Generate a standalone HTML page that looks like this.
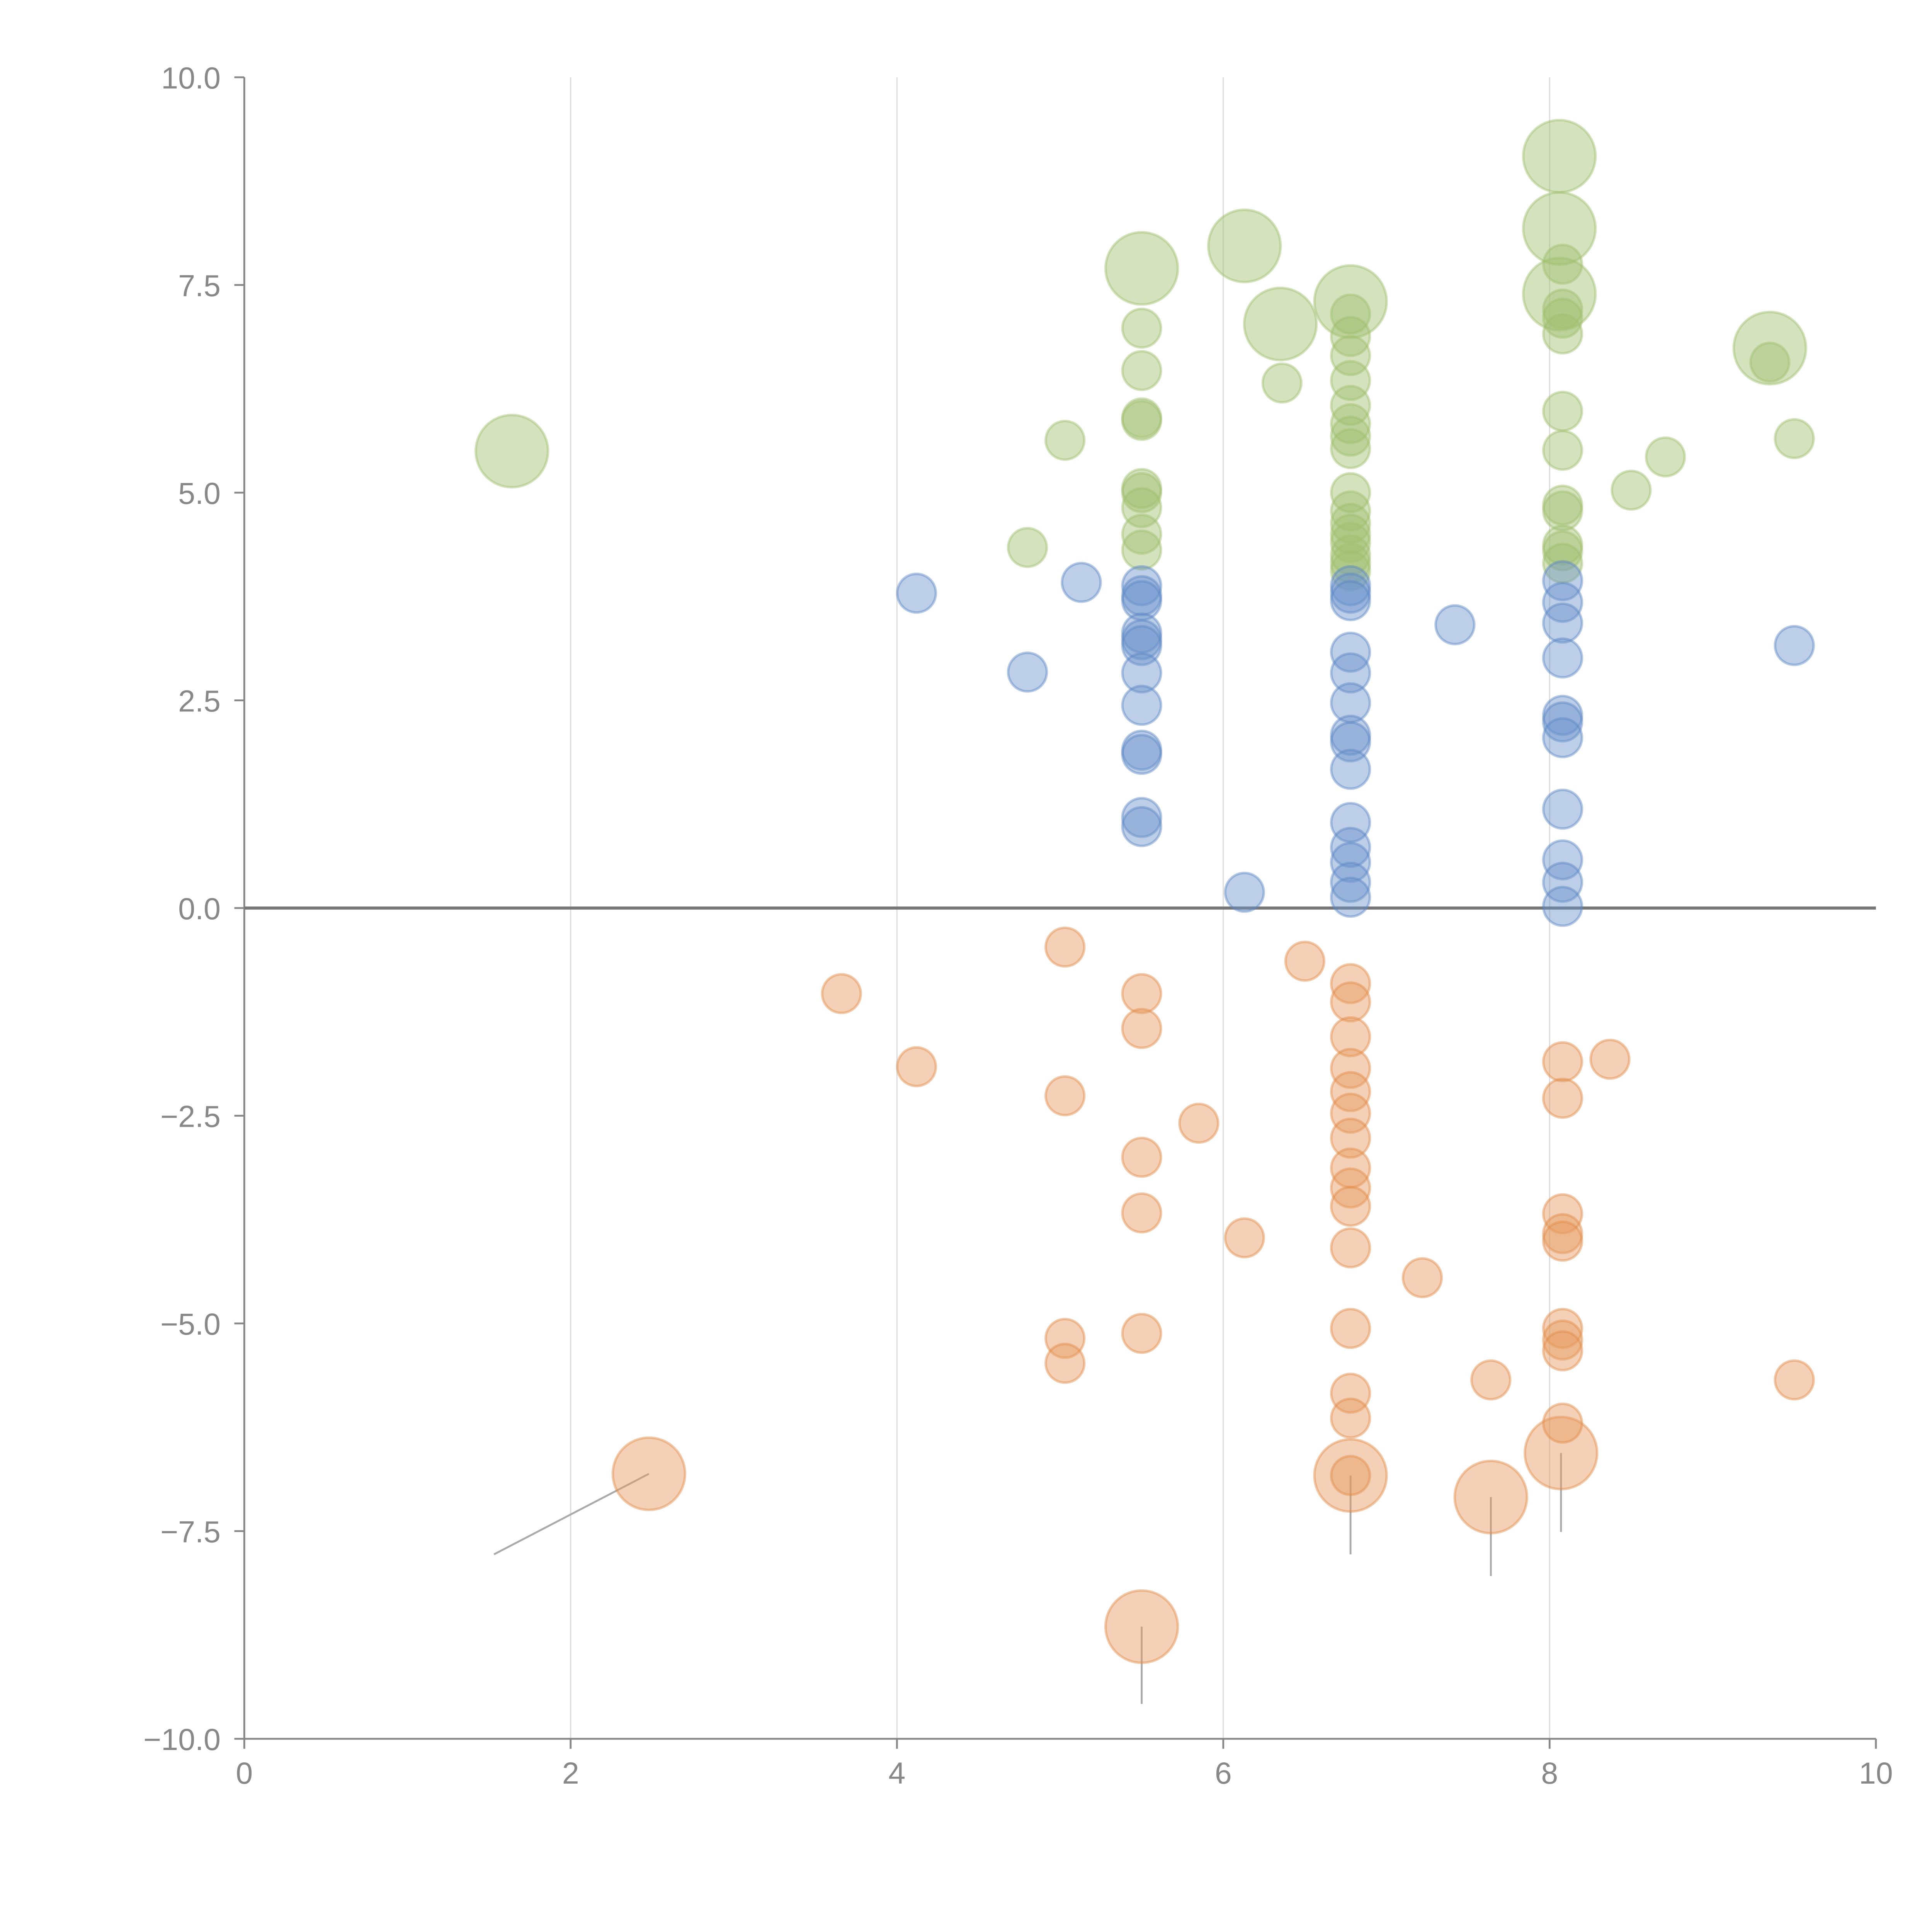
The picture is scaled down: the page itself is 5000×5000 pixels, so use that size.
<!DOCTYPE html>
<html><head><meta charset="utf-8"><style>
html,body{margin:0;padding:0;background:#fff;}
svg{display:block;}
text{font-family:"Liberation Sans",Arial,sans-serif;fill:#888;font-size:24.5px;}
</style></head><body>
<svg id="chart" width="5000" height="5000" viewBox="0 0 1550 1550" xmlns="http://www.w3.org/2000/svg">
<g id="grid"></g>
<g id="axes"></g>
<g id="leaders"></g>
<g id="marks"></g>
</svg>
<script>
const xTicks=[0,2,4,6,8,10];
const yTicks=[10,7.5,5,2.5,0,-2.5,-5,-7.5,-10];
const yTickLabels=["10.0","7.5","5.0","2.5","0.0","\u22122.5","\u22125.0","\u22127.5","\u221210.0"];
const greenX=[1.64,5.5,6.13,6.35,6.78,8.06,8.06,8.06,9.35,5.5,5.5,5.5,5.5,5.5,5.5,5.5,5.5,5.5,5.03,4.8,6.36,6.78,6.78,6.78,6.78,6.78,6.78,6.78,6.78,6.78,6.78,6.78,6.78,6.78,6.78,6.78,6.78,8.08,8.08,8.08,8.08,8.08,8.08,8.08,8.08,8.08,8.08,8.08,8.5,8.71,9.35,9.5];
const greenY=[5.5,7.7,7.97,7.03,7.3,9.05,8.18,7.39,6.74,6.98,6.47,5.9,5.87,5.05,5.0,4.82,4.5,4.31,5.63,4.34,6.32,7.15,6.88,6.65,6.35,6.05,5.83,5.68,5.53,5.0,4.78,4.63,4.5,4.4,4.25,4.15,4.06,7.75,7.21,7.1,6.91,5.98,5.51,4.85,4.78,4.37,4.3,4.15,5.03,5.43,6.57,5.65];
const greenSize=[2,2,2,2,2,2,2,2,2,1,1,1,1,1,1,1,1,1,1,1,1,1,1,1,1,1,1,1,1,1,1,1,1,1,1,1,1,1,1,1,1,1,1,1,1,1,1,1,1,1,1,1];
const blueX=[4.12,5.13,4.8,5.5,5.5,5.5,5.5,5.5,5.5,5.5,5.5,5.5,5.5,5.5,5.5,6.13,6.78,6.78,6.78,6.78,6.78,6.78,6.78,6.78,6.78,6.78,6.78,6.78,6.78,6.78,7.42,8.08,8.08,8.08,8.08,8.08,8.08,8.08,8.08,8.08,8.08,8.08,9.5];
const blueY=[3.79,3.92,2.84,3.88,3.76,3.7,3.31,3.23,3.16,2.83,2.44,1.9,1.85,1.09,0.98,0.19,3.88,3.79,3.7,3.08,2.83,2.47,2.08,2.0,1.67,1.03,0.73,0.55,0.31,0.13,3.41,3.94,3.68,3.43,3.01,2.32,2.24,2.05,1.19,0.58,0.31,0.02,3.16];
const orangeX=[2.48,5.5,6.78,7.64,8.07,3.66,4.12,5.03,5.03,5.03,5.03,5.5,5.5,5.5,5.5,5.5,5.85,6.13,6.5,7.22,7.64,8.37,9.5,6.78,6.78,6.78,6.78,6.78,6.78,6.78,6.78,6.78,6.78,6.78,6.78,6.78,6.78,6.78,8.08,8.08,8.08,8.08,8.08,8.08,8.08,8.08,8.08];
const orangeY=[-6.81,-8.65,-6.83,-7.09,-6.56,-1.03,-1.91,-0.47,-2.26,-5.18,-5.48,-1.03,-1.45,-3.0,-3.67,-5.12,-2.59,-3.97,-0.64,-4.45,-5.68,-1.82,-5.68,-0.91,-1.13,-1.55,-1.93,-2.21,-2.47,-2.77,-3.13,-3.37,-3.59,-4.09,-5.06,-5.84,-6.14,-6.83,-1.85,-2.29,-3.68,-3.92,-4.01,-5.06,-5.2,-5.33,-6.2];
const orangeSize=[2,2,2,2,2,1,1,1,1,1,1,1,1,1,1,1,1,1,1,1,1,1,1,1,1,1,1,1,1,1,1,1,1,1,1,1,1,1,1,1,1,1,1,1,1,1,1];
const leaderFromX=[2.48,5.5,6.78,7.64,8.07];
const leaderFromY=[-6.81,-8.65,-6.83,-7.09,-6.56];
const leaderToX=[1.53,5.5,6.78,7.64,8.07];
const leaderToY=[-7.78,-9.58,-7.78,-8.04,-7.51];

const X0=196,X1=1505,Y0=1395,Y1=62;
const sx=v=>X0+(v-0)/(10-0)*(X1-X0);
const sy=v=>Y0-(v+10)/20*(Y0-Y1);
const NS="http://www.w3.org/2000/svg";
function mk(t,a,p){const e=document.createElementNS(NS,t);for(const k in a)e.setAttribute(k,a[k]);p.appendChild(e);return e;}
const grid=document.getElementById('grid'),axes=document.getElementById('axes'),marks=document.getElementById('marks'),leaders=document.getElementById('leaders');
xTicks.forEach(v=>{
  if(v>0&&v<10){const g=mk('line',{x1:sx(v),x2:sx(v),y1:Y1,y2:Y0,stroke:'#ddd','stroke-width':1},grid);
  
  }
  const t=mk('line',{x1:sx(v),x2:sx(v),y1:Y0,y2:Y0+8,stroke:'#888','stroke-width':1.5},axes);
  
  
  const l=mk('text',{x:sx(v),y:Y0+36,'text-anchor':'middle'},axes);l.textContent=v;
  
  
});
yTicks.forEach((v,i)=>{
  const t=mk('line',{x1:X0-8,x2:X0,y1:sy(v),y2:sy(v),stroke:'#888','stroke-width':1.5},axes);
  
  
  const l=mk('text',{x:X0-19,y:sy(v)+9,'text-anchor':'end'},axes);l.textContent=yTickLabels[i];
  
  
});
let a=mk('line',{x1:X0,x2:X0,y1:Y1,y2:Y0,stroke:'#888','stroke-width':1.5},axes);


a=mk('line',{x1:X0,x2:X1,y1:Y0,y2:Y0,stroke:'#888','stroke-width':1.5},axes);


a=mk('line',{x1:X0,x2:X1,y1:sy(0),y2:sy(0),stroke:'#777','stroke-width':2.5},axes);



leaderFromX.forEach((v,i)=>{
  const l=mk('line',{x1:sx(v),y1:sy(leaderFromY[i]),x2:sx(leaderToX[i]),y2:sy(leaderToY[i]),stroke:'#aaa','stroke-width':1.5},leaders);
  
  
});
const R=[0,15.5,29];
function series(xs,ys,sz,fill,stroke,name){
  xs.forEach((v,i)=>{
    const c=mk('circle',{cx:sx(v),cy:sy(ys[i]),r:R[sz?sz[i]:1],fill:fill,'fill-opacity':0.45,stroke:stroke,'stroke-opacity':0.45,'stroke-width':2},marks);
    
    
  });
}
series(greenX,greenY,greenSize,'#9fbf6e','#9fbf6e','green-point');
series(blueX,blueY,null,'#6b93cb','#5a86c4','blue-point');
series(orangeX,orangeY,orangeSize,'#e69a5e','#e08a48','orange-point');
</script>
</body></html>
